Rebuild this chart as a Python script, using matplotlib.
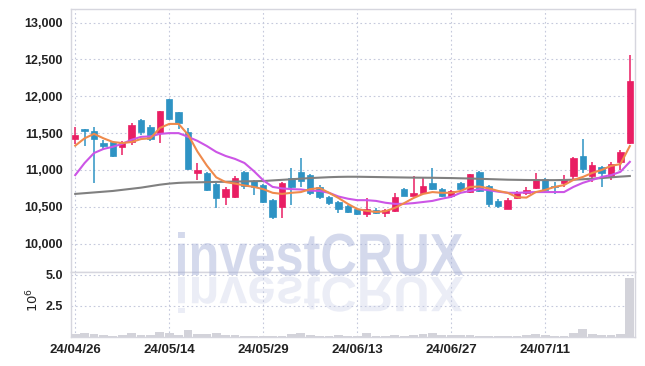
import matplotlib
matplotlib.use("Agg")
import matplotlib.pyplot as plt
import numpy as np
import pandas as pd
from matplotlib.textpath import TextPath
from matplotlib.patches import PathPatch
from matplotlib.font_manager import FontProperties
from matplotlib.transforms import Affine2D
from matplotlib.ticker import FuncFormatter

# trading days (KRX), 24/04/26 .. 24/07/24
holidays = ["2024-05-01", "2024-05-06", "2024-05-15", "2024-06-06"]
dates = pd.bdate_range("2024-04-26", "2024-07-24")
dates = dates[~dates.isin(pd.to_datetime(holidays))]
date_labels = [d.strftime("%y/%m/%d") for d in dates]

opens = [11420, 11550, 11530, 11370, 11380, 11310, 11380, 11680, 11580, 11500,
         11960, 11790, 11520, 10960, 10960, 10810, 10630, 10630, 10970, 10850,
         10800, 10590, 10500, 10890, 10970, 10930, 10770, 10630, 10570, 10510,
         10470, 10400, 10460, 10415, 10445, 10740, 10650, 10690, 10820, 10740,
         10640, 10820, 10700, 10970, 10780, 10580, 10470, 10620, 10690, 10755,
         10880, 10785, 10825, 10920, 11190, 10920, 11040, 10920, 11110, 11365]
closes = [11470, 11530, 11420, 11330, 11190, 11370, 11610, 11520, 11420, 11800,
          11690, 11640, 11010, 11000, 10730, 10620, 10740, 10890, 10780, 10770,
          10570, 10360, 10820, 10770, 10850, 10690, 10630, 10550, 10470, 10430,
          10400, 10470, 10420, 10450, 10635, 10650, 10690, 10780, 10740, 10650,
          10720, 10740, 10945, 10715, 10540, 10510, 10590, 10690, 10730, 10880,
          10730, 10770, 10865, 11160, 11015, 11065, 10960, 11080, 11245, 12210]
highs = [11580, 11560, 11590, 11410, 11400, 11400, 11640, 11690, 11610, 11800,
         11970, 11790, 11570, 11090, 10970, 10820, 10770, 10920, 10980, 10860,
         10810, 10600, 10830, 11030, 11160, 10940, 10790, 10640, 10580, 10520,
         10475, 10620, 10480, 10470, 10690, 10750, 10920, 10890, 11030, 10750,
         10730, 10830, 10950, 10980, 10790, 10600, 10620, 10720, 10770, 10960,
         10890, 10840, 10930, 11170, 11420, 11110, 11050, 11110, 11270, 12560]
lows = [11350, 11330, 10820, 11270, 11170, 11200, 11340, 11480, 11400, 11370,
        11680, 11560, 11000, 10860, 10710, 10480, 10520, 10620, 10740, 10660,
        10550, 10330, 10350, 10520, 10770, 10660, 10600, 10520, 10415, 10420,
        10395, 10360, 10400, 10360, 10430, 10640, 10640, 10680, 10730, 10630,
        10620, 10720, 10690, 10700, 10500, 10480, 10465, 10600, 10660, 10740,
        10700, 10670, 10770, 10860, 10960, 10840, 10770, 10860, 11000, 11350]

# volume, millions of shares
volume = [0.25, 0.33, 0.25, 0.15, 0.10, 0.15, 0.33, 0.20, 0.15, 0.40,
          0.35, 0.18, 0.60, 0.25, 0.25, 0.30, 0.20, 0.15, 0.12, 0.08,
          0.08, 0.10, 0.12, 0.25, 0.30, 0.15, 0.10, 0.08, 0.15, 0.10,
          0.12, 0.35, 0.10, 0.08, 0.15, 0.12, 0.20, 0.28, 0.35, 0.15,
          0.15, 0.15, 0.15, 0.08, 0.08, 0.08, 0.08, 0.08, 0.15, 0.27,
          0.15, 0.08, 0.08, 0.35, 0.65, 0.25, 0.15, 0.15, 0.25, 4.75]

ma_short = [11330, 11430, 11490, 11430, 11380, 11365, 11380, 11420, 11430, 11570,
            11625, 11625, 11480, 11250, 11060, 10900, 10835, 10815, 10790, 10770,
            10740, 10690, 10675, 10690, 10700, 10740, 10755, 10690, 10620, 10540,
            10470, 10445, 10430, 10440, 10485, 10550, 10620, 10675, 10700, 10690,
            10690, 10715, 10770, 10775, 10750, 10715, 10690, 10630, 10625, 10700,
            10730, 10770, 10795, 10865, 10905, 10960, 11000, 11055, 11080, 11325]
ma_mid = [10930, 11095, 11230, 11285, 11315, 11355, 11410, 11450, 11455, 11490,
          11500, 11500, 11450, 11395, 11325, 11245, 11190, 11150, 11095, 10985,
          10860, 10770, 10750, 10740, 10735, 10720, 10715, 10690, 10640, 10610,
          10590, 10590, 10580, 10555, 10540, 10540, 10550, 10565, 10580, 10610,
          10635, 10690, 10715, 10740, 10725, 10705, 10690, 10690, 10695, 10700,
          10700, 10700, 10700, 10770, 10825, 10865, 10905, 10930, 10975, 11110]
ma_long = [10675, 10685, 10695, 10705, 10715, 10730, 10745, 10760, 10780, 10800,
           10815, 10825, 10830, 10832, 10835, 10838, 10840, 10842, 10845, 10848,
           10850, 10858, 10866, 10874, 10882, 10890, 10896, 10902, 10906, 10908,
           10908, 10906, 10904, 10902, 10900, 10898, 10896, 10895, 10894, 10892,
           10890, 10887, 10884, 10880, 10876, 10872, 10868, 10866, 10864, 10863,
           10862, 10862, 10864, 10868, 10874, 10882, 10890, 10900, 10910, 10918]

UP = "#e91e63"
DOWN = "#2e93c4"
GRID = "#c5c9dc"
TXT = "#222222"

plt.rcParams["font.family"] = ["Liberation Sans", "DejaVu Sans"]

fig = plt.figure(figsize=(6.45, 3.66), dpi=100)
W, H = 645, 366
L, R = 71 / W, 635 / W
ax = fig.add_axes([L, 1 - 272 / H, R - L, (272 - 9) / H])
axv = fig.add_axes([L, 1 - 337 / H, R - L, (337 - 272) / H], sharex=ax)

x = np.arange(len(opens))
o = np.array(opens)
c = np.array(closes)
colors = [UP if cc >= oo else DOWN for oo, cc in zip(o, c)]

ax.vlines(x, lows, highs, color=colors, linewidth=1.1, zorder=3)
body_lo = np.minimum(o, c)
body_h = np.maximum(np.abs(c - o), 12)
ax.bar(x, body_h, bottom=body_lo, width=0.68, color=colors, edgecolor=colors,
       linewidth=0.5, zorder=4)

ax.plot(x, ma_long, color="#808080", linewidth=1.5, zorder=5)
ax.plot(x, ma_mid, color="#cc55e6", linewidth=1.5, zorder=5)
ax.plot(x, ma_short, color="#ef8a4c", linewidth=1.5, zorder=6)

ax.set_xlim(-0.45, len(x) - 0.45)
ax.set_ylim(9615, 13185)
ax.set_yticks(np.arange(10000, 13001, 500))
ax.yaxis.set_major_formatter(FuncFormatter(lambda v, p: f"{v:,.0f}"))

tick_pos = x[::10]
for a in (ax, axv):
    a.set_xticks(tick_pos)
    a.grid(True, color=GRID, linestyle=(0, (1.5, 2.5)), linewidth=0.8)
    a.set_axisbelow(True)
    a.tick_params(length=0, colors=TXT, labelsize=9, pad=6)
    for s in a.spines.values():
        s.set_color("#d6d6de")
        s.set_linewidth(1)
    for lab in a.get_yticklabels():
        lab.set_fontweight("bold")

ax.tick_params(labelbottom=False)
axv.tick_params(axis="x", labelsize=9.5, pad=5)
axv.set_xticklabels([date_labels[i] for i in tick_pos], fontweight="bold")

axv.bar(x, volume, width=0.95, color="#d3d3da", zorder=3)
axv.set_ylim(0, 5.2)
axv.set_yticks([2.5, 5.0])
axv.set_yticklabels(["2.5", "5.0"], fontweight="bold")
fig.text(33 / W, 1 - 300 / H, r"$10^6$", rotation=90, ha="center", va="center",
         fontsize=9.5, color=TXT)

# watermark with reflection
wm = fig.add_axes([0, 0, 1, 1], zorder=10)
wm.set_xlim(0, W)
wm.set_ylim(H, 0)
wm.axis("off")
wm.patch.set_alpha(0)
tp = TextPath((0, 0), "investCRUX", size=100,
              prop=FontProperties(family="Liberation Sans", weight="bold"))
ext = tp.get_extents()
sx = (463 - 178) / ext.width
main_tf = Affine2D().translate(-ext.x0, 0).scale(sx, -43 / ext.y1).translate(178, 275)
refl_tf = Affine2D().translate(-ext.x0, 0).scale(sx, 36 / ext.y1).translate(178, 277)
wm.add_patch(PathPatch(main_tf.transform_path(tp), facecolor="#aab4da",
                       edgecolor="none", alpha=0.5))
wm.add_patch(PathPatch(refl_tf.transform_path(tp), facecolor="#c6cce6",
                       edgecolor="none", alpha=0.35))

fig.savefig("out.png", dpi=100)
